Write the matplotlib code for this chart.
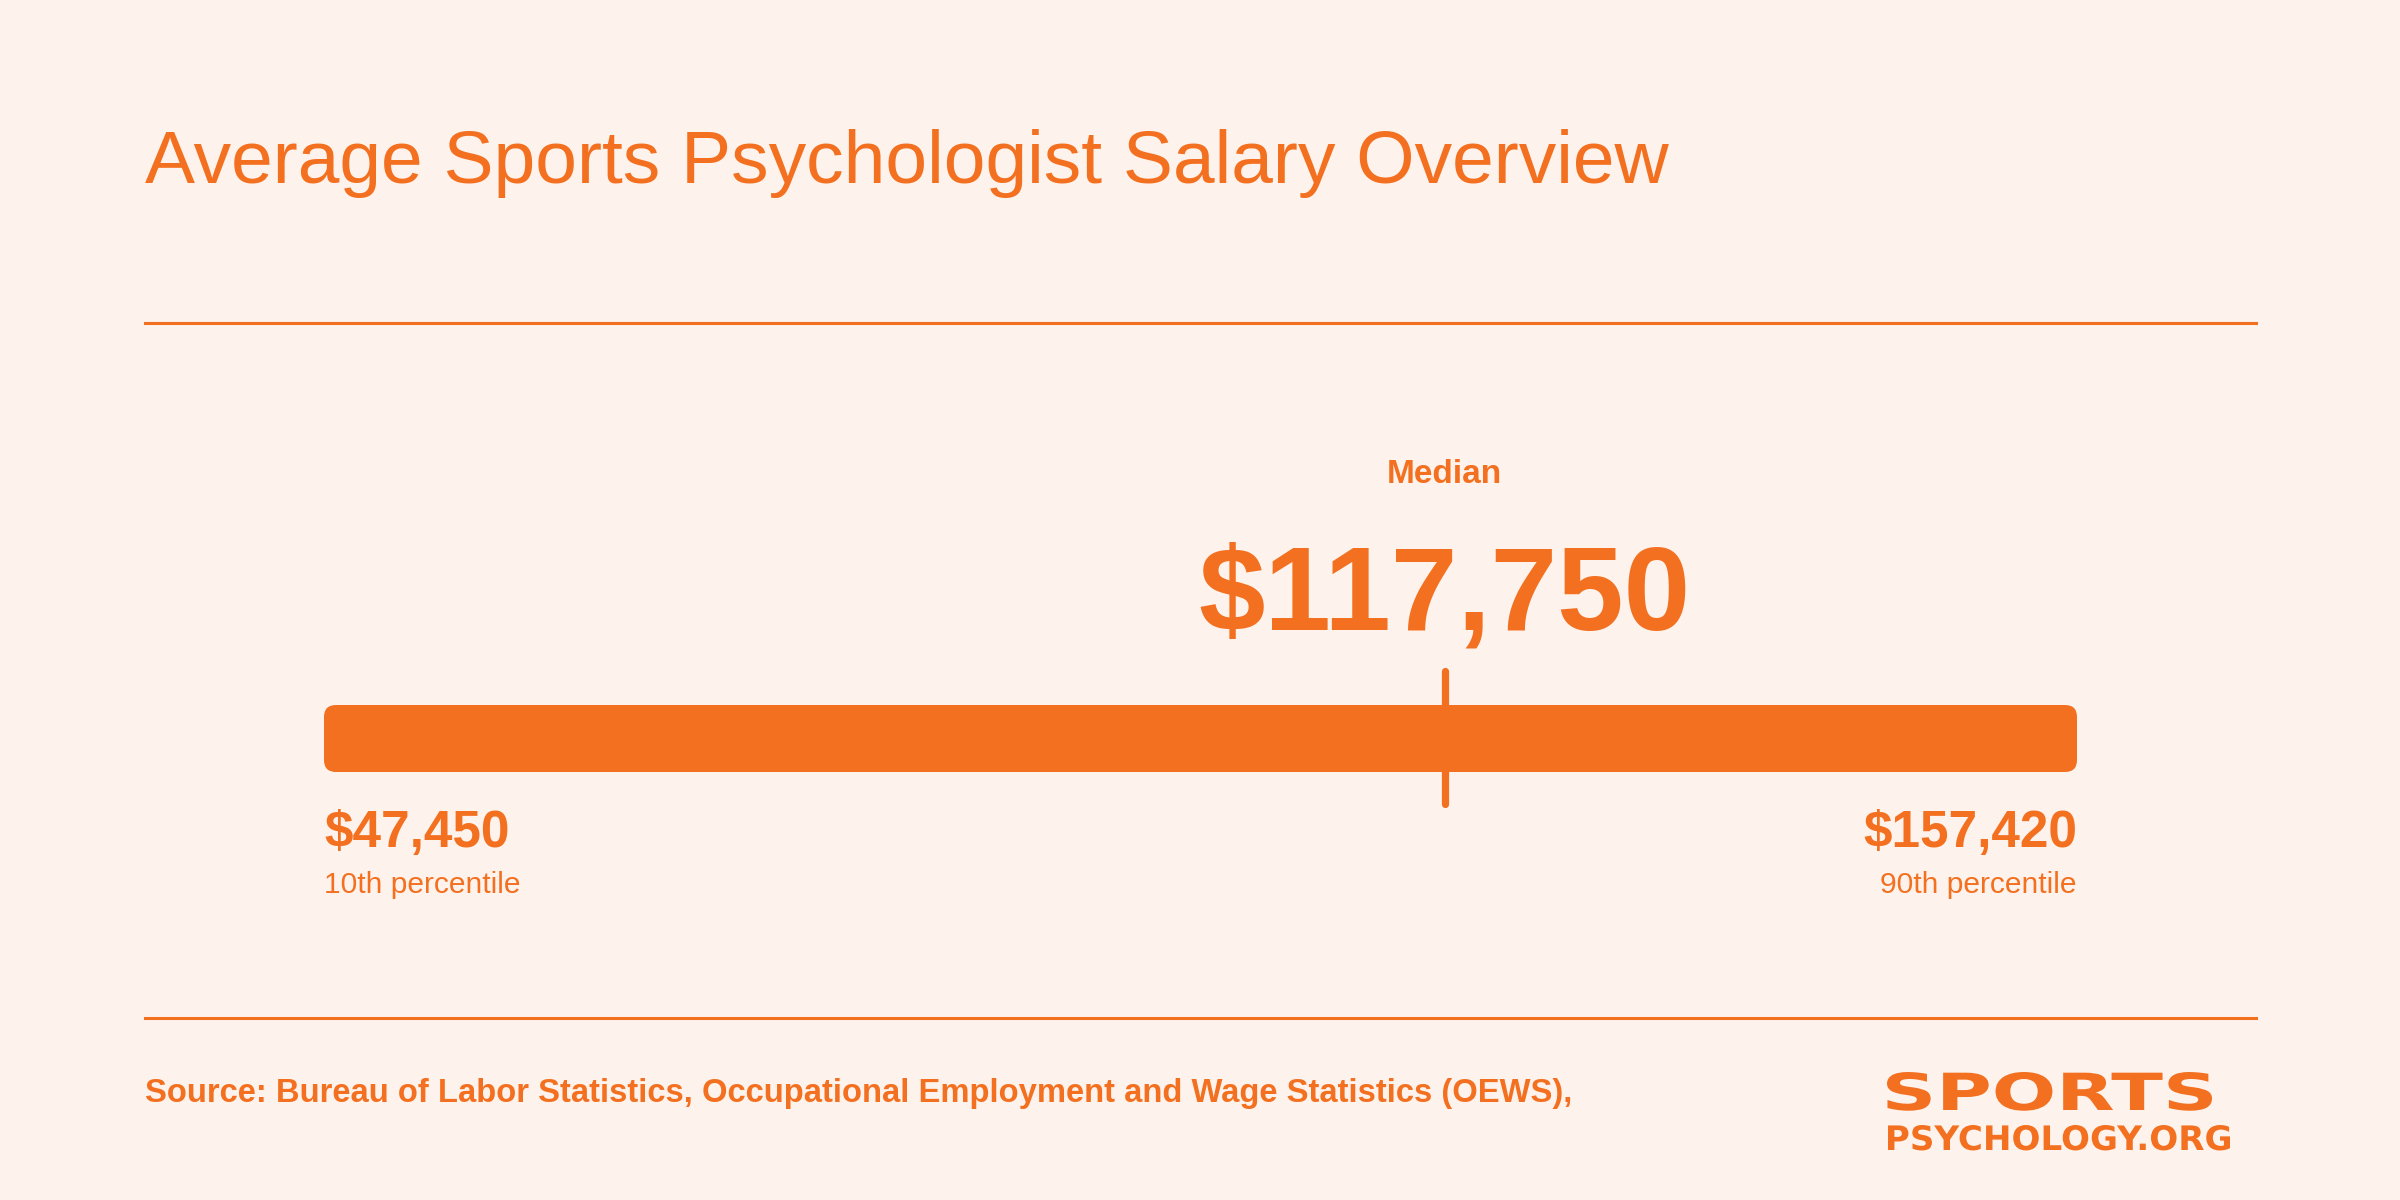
import matplotlib
matplotlib.use("Agg")
import matplotlib.pyplot as plt
from matplotlib.patches import FancyBboxPatch, PathPatch
from matplotlib.lines import Line2D
from matplotlib.textpath import TextPath
from matplotlib.font_manager import FontProperties
from matplotlib.transforms import Affine2D

# salary figures (BLS OEWS)
low_value = 47450
median_value = 117750
high_value = 157420
low_label = "10th percentile"
high_label = "90th percentile"
median_label = "Median"

title = "Average Sports Psychologist Salary Overview"
source = "Source: Bureau of Labor Statistics, Occupational Employment and Wage Statistics (OEWS),"
logo_top = "SPORTS"
logo_bottom = "PSYCHOLOGY.ORG"

orange = "#F37021"
bg = "#FEF3EC"

W, H, DPI = 2400, 1200, 200
plt.rcParams['font.family'] = ['Liberation Sans', 'DejaVu Sans']

fig = plt.figure(figsize=(W / DPI, H / DPI), dpi=DPI, facecolor=bg)


def fx(px):
    return px / W


def fy(py):
    return 1 - py / H


# title and rules
fig.text(fx(145), fy(183), title, color=orange, fontsize=27, va='baseline', ha='left')
for ry in (323, 1018):
    fig.add_artist(Line2D([fx(145), fx(2256)], [fy(ry), fy(ry)], color=orange, lw=1.1))

# axes: x in dollars across bar, y in pixel rows (top down)
bar_left, bar_right = 324, 2077
ax = fig.add_axes([fx(bar_left), 0, fx(bar_right - bar_left), 1])
ax.set_xlim(low_value, high_value)
ax.set_ylim(H, 0)
ax.axis('off')
ax.patch.set_alpha(0)

units_per_px = (high_value - low_value) / (bar_right - bar_left)
bar_top, bar_bot = 705, 772
bar = FancyBboxPatch((low_value, bar_top), high_value - low_value, bar_bot - bar_top,
                     boxstyle=f"round,pad=0,rounding_size={12 * units_per_px}",
                     mutation_aspect=1 / units_per_px,
                     facecolor=orange, edgecolor='none')
ax.add_patch(bar)

# median marker
ax.plot([median_value, median_value], [671, 804], color=orange, lw=2.6,
        solid_capstyle='round')
ax.text(median_value, 483, median_label, color=orange, fontsize=12, fontweight='bold',
        ha='center', va='baseline')
ax.text(median_value, 630, f"${median_value:,}", color=orange, fontsize=43,
        fontweight='bold', ha='center', va='baseline')

# ends
ax.text(low_value, 847, f"${low_value:,}", color=orange, fontsize=18.5, fontweight='bold',
        ha='left', va='baseline')
ax.text(low_value, 893, low_label, color=orange, fontsize=10.8, ha='left', va='baseline')
ax.text(high_value, 847, f"${high_value:,}", color=orange, fontsize=18.5, fontweight='bold',
        ha='right', va='baseline')
ax.text(high_value, 893, high_label, color=orange, fontsize=10.8, ha='right', va='baseline')

# source
fig.text(fx(145), fy(1102), source, color=orange, fontsize=11.8, fontweight='bold',
         va='baseline', ha='left')


# logo: text outlines stretched to fit the box of the original wordmark
def logo_word(s, left, right, baseline, cap):
    tp = TextPath((0, 0), s, size=100,
                  prop=FontProperties(family='DejaVu Sans', weight='bold'))
    ext = tp.get_extents()
    sx = (right - left) / ext.width
    sy = cap / ext.y1
    tr = (Affine2D().translate(-ext.x0, 0).scale(sx, sy)
          .translate(left, H - baseline).scale(1 / W, 1 / H))
    fig.add_artist(PathPatch(tp, transform=tr + fig.transFigure,
                             facecolor=orange, edgecolor='none'))


logo_word(logo_top, 1887, 2212, 1110, 38)
logo_word(logo_bottom, 1888, 2230, 1150, 25)

fig.savefig("out.png", dpi=DPI, facecolor=bg)
